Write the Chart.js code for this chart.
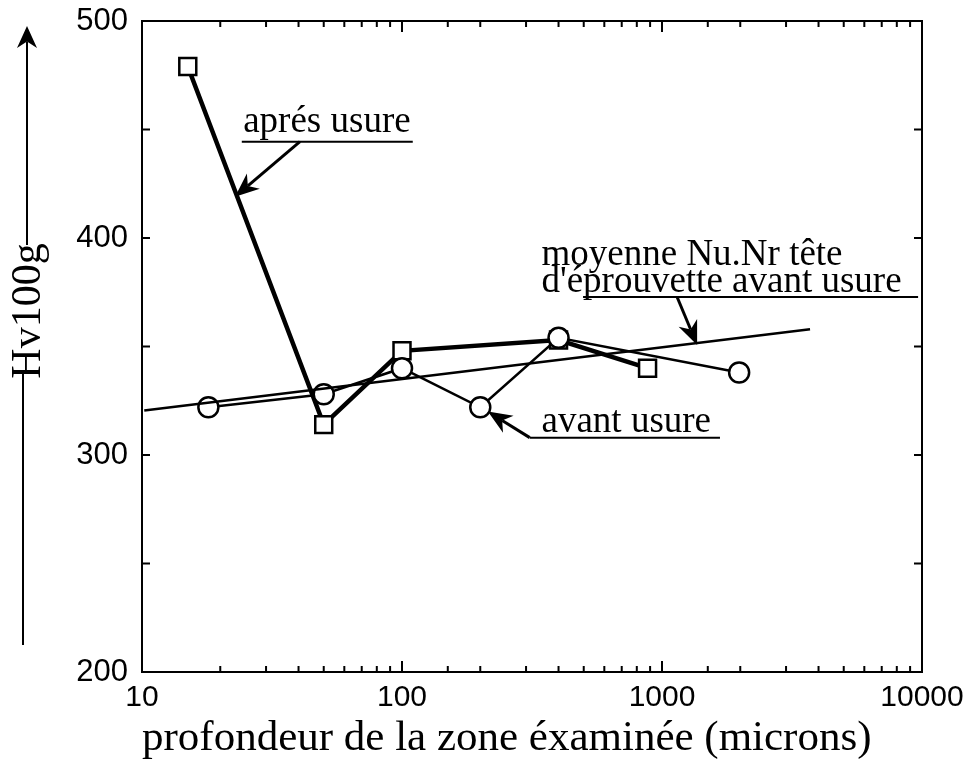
<!DOCTYPE html>
<html>
<head>
<meta charset="utf-8">
<script src="https://cdn.jsdelivr.net/npm/chart.js@4.4.1/dist/chart.umd.min.js"></script>
<style>
  html, body { margin: 0; padding: 0; background: #fff; }
</style>
</head>
<body>
<canvas id="durete" width="980" height="765"></canvas>
<script>
// valeurs
const xTickLabels = [10, 100, 1000, 10000];
const yTickLabels = [200, 300, 400, 500];

const apresDepth = [15, 50, 100, 400, 880];
const apresHv = [479, 314, 348, 353, 340];

const avantDepth = [18, 50, 100, 200, 400, 1980];
const avantHv = [322, 328, 340, 322, 354, 338];

const moyenneDepth = [10.2, 3710];
const moyenneHv = [320.5, 358];

// annotations (en coordonnées des données)
const noteLines = [
    { text: ["aprés usure"], x: 24.5, y: [449] },
    { text: ["moyenne Nu.Nr tête", "d'éprouvette avant usure"], x: 344, y: [387.6, 375.3] },
    { text: ["avant usure"], x: 344, y: [310.7] }
];
const noteUnderlines = [
    [24.2, 110, 444.4],
    [497, 9660, 372.8],
    [310, 1671, 308]
];
const noteArrows = [
    [40.5, 444.4, 22.8, 419],
    [1143, 372.8, 1365, 350.7],
    [310, 308, 214, 320]
];

const toPoints = (xs, ys) => xs.map((x, i) => ({ x: x, y: ys[i] }));

const drawArrow = (ctx, x1, y1, x2, y2, len, half, width) => {
    const a = Math.atan2(y2 - y1, x2 - x1);
    const c = Math.cos(a), s = Math.sin(a);
    const bx = x2 - len * c, by = y2 - len * s;
    const nx = x2 - len * 0.7 * c, ny = y2 - len * 0.7 * s;
    ctx.lineWidth = width;
    ctx.beginPath();
    ctx.moveTo(x1, y1);
    ctx.lineTo(nx, ny);
    ctx.stroke();
    ctx.beginPath();
    ctx.moveTo(x2, y2);
    ctx.lineTo(bx - half * s, by + half * c);
    ctx.lineTo(nx, ny);
    ctx.lineTo(bx + half * s, by - half * c);
    ctx.closePath();
    ctx.fill();
};

const cadre = {
    id: "cadre",
    afterDatasetsDraw(chart) {
        const { ctx, chartArea: area, scales } = chart;
        ctx.save();
        ctx.strokeStyle = "#000";
        ctx.fillStyle = "#000";
        ctx.lineWidth = 2;
        ctx.strokeRect(area.left, area.top, area.right - area.left, area.bottom - area.top);

        // graduations vers l'intérieur
        ctx.beginPath();
        scales.x.ticks.forEach(t => {
            if (t.value <= scales.x.min || t.value >= scales.x.max) return;
            const px = scales.x.getPixelForValue(t.value);
            const major = Math.abs(Math.log10(t.value) % 1) < 1e-6;
            const l = major ? 11 : 6;
            ctx.moveTo(px, area.bottom);
            ctx.lineTo(px, area.bottom - l);
            ctx.moveTo(px, area.top);
            ctx.lineTo(px, area.top + l);
        });
        scales.y.ticks.forEach(t => {
            if (t.value <= scales.y.min || t.value >= scales.y.max) return;
            const py = scales.y.getPixelForValue(t.value);
            ctx.moveTo(area.left, py);
            ctx.lineTo(area.left + 8, py);
            ctx.moveTo(area.right, py);
            ctx.lineTo(area.right - 8, py);
        });
        ctx.stroke();
        ctx.restore();
    },
    afterDraw(chart) {
        const { ctx, scales } = chart;
        const X = v => scales.x.getPixelForValue(v);
        const Y = v => scales.y.getPixelForValue(v);
        ctx.save();
        ctx.strokeStyle = "#000";
        ctx.fillStyle = "#000";

        // titre de l'axe vertical avec sa flèche
        ctx.save();
        ctx.translate(29, 311);
        ctx.rotate(-Math.PI / 2);
        ctx.font = "42px 'Liberation Serif'";
        ctx.textAlign = "center";
        ctx.textBaseline = "middle";
        ctx.fillText("Hv100g", 0, 0);
        ctx.restore();
        drawArrow(ctx, 27, 245, 27, 26, 22, 10, 2);
        ctx.lineWidth = 2;
        ctx.beginPath();
        ctx.moveTo(23, 372);
        ctx.lineTo(23, 645);
        ctx.stroke();

        // annotations
        ctx.font = "37px 'Liberation Serif'";
        ctx.textAlign = "left";
        ctx.textBaseline = "alphabetic";
        noteLines.forEach(n => {
            n.text.forEach((t, i) => ctx.fillText(t, X(n.x), Y(n.y[i])));
        });
        ctx.lineWidth = 2;
        noteUnderlines.forEach(u => {
            ctx.beginPath();
            ctx.moveTo(X(u[0]), Y(u[2]));
            ctx.lineTo(X(u[1]), Y(u[2]));
            ctx.stroke();
        });
        noteArrows.forEach(a => {
            drawArrow(ctx, X(a[0]), Y(a[1]), X(a[2]), Y(a[3]), 24, 10, 3);
        });
        ctx.restore();
    }
};

const ctx = document.getElementById("durete").getContext("2d");

new Chart(ctx, {
    type: "line",
    data: {
        datasets: [
            {
                label: "moyenne Nu.Nr tête d'éprouvette avant usure",
                data: toPoints(moyenneDepth, moyenneHv),
                borderColor: "#000",
                borderWidth: 2.5,
                pointRadius: 0,
                order: 0
            },
            {
                label: "avant usure",
                data: toPoints(avantDepth, avantHv),
                borderColor: "#000",
                borderWidth: 2.5,
                pointStyle: "circle",
                pointRadius: 10,
                pointBorderWidth: 2.5,
                pointBackgroundColor: "#fff",
                pointBorderColor: "#000",
                order: 1
            },
            {
                label: "aprés usure",
                data: toPoints(apresDepth, apresHv),
                borderColor: "#000",
                borderWidth: 4.5,
                pointStyle: "rect",
                pointRadius: 12,
                pointBorderWidth: 2.5,
                pointBackgroundColor: "#fff",
                pointBorderColor: "#000",
                order: 2
            }
        ]
    },
    options: {
        responsive: false,
        animation: false,
        layout: { padding: { top: 21, right: 58, left: 0, bottom: 0 } },
        plugins: {
            legend: { display: false },
            tooltip: { enabled: false }
        },
        scales: {
            x: {
                type: "logarithmic",
                min: 10,
                max: 10000,
                grid: { display: false, drawTicks: false },
                border: { display: false },
                ticks: {
                    autoSkip: false,
                    maxRotation: 0,
                    padding: 8,
                    color: "#000",
                    font: { family: "'Liberation Sans'", size: 30 },
                    callback: v => xTickLabels.includes(v) ? String(v) : ""
                },
                title: {
                    display: true,
                    text: "profondeur de la zone éxaminée (microns)",
                    align: "start",
                    color: "#000",
                    font: { family: "'Liberation Serif'", size: 43 },
                    padding: { top: 0, bottom: 0 }
                },
                afterFit: s => { s.height = 93; s.paddingLeft = 0; s.paddingRight = 0; }
            },
            y: {
                type: "linear",
                min: 200,
                max: 500,
                grid: { display: false, drawTicks: false },
                border: { display: false },
                ticks: {
                    stepSize: 50,
                    padding: 14,
                    color: "#000",
                    font: { family: "'Liberation Sans'", size: 31 },
                    callback: v => yTickLabels.includes(v) ? String(v) : ""
                },
                afterFit: s => { s.width = 142; s.paddingTop = 0; s.paddingBottom = 0; }
            }
        }
    },
    plugins: [cadre]
});
</script>
</body>
</html>
